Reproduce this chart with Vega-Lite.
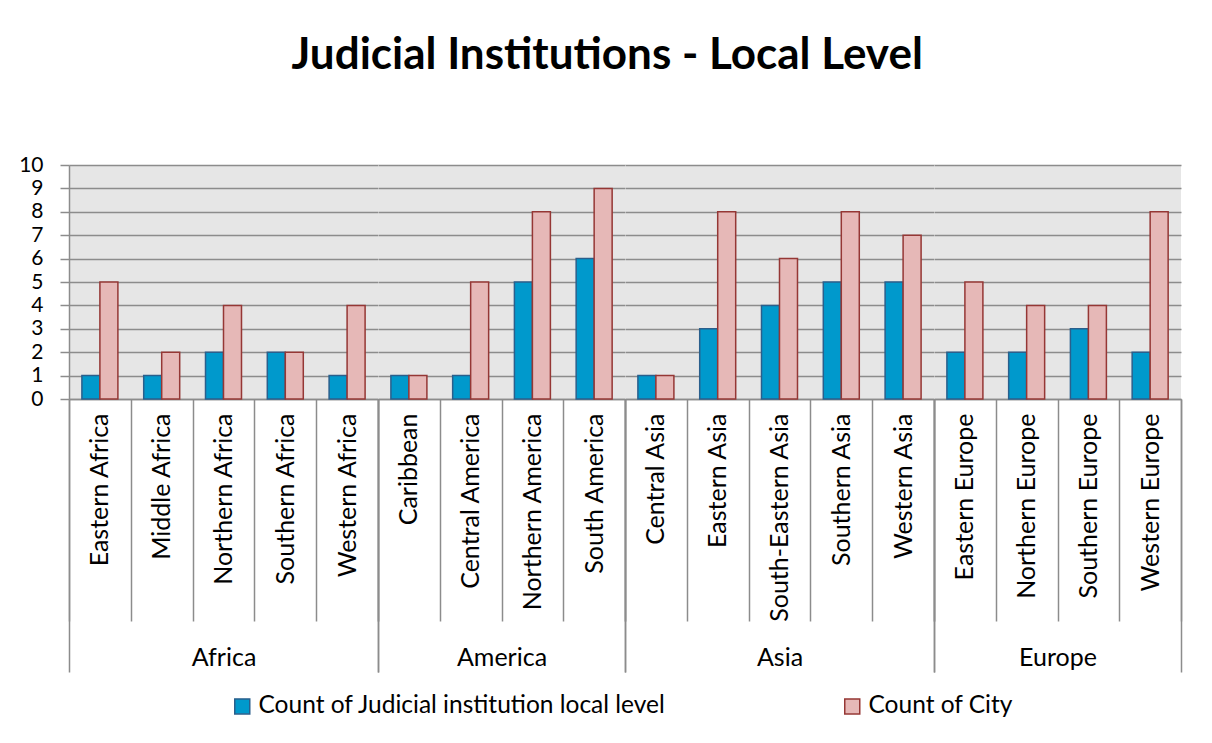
{
  "$schema": "https://vega.github.io/schema/vega-lite/v6.json",
  "background": "white",
  "padding": {"left": 18, "top": 34, "right": 5, "bottom": 5},
  "title": {"text": "Judicial Institutions - Local Level", "font": "Lato", "fontSize": 44, "fontWeight": "bold", "color": "black", "anchor": "middle", "offset": 76, "dx": 7},
  "data": {"values": [
    {"region": "Africa", "subregion": "Eastern Africa", "Count of Judicial institution local level": 1, "Count of City": 5},
    {"region": "Africa", "subregion": "Middle Africa", "Count of Judicial institution local level": 1, "Count of City": 2},
    {"region": "Africa", "subregion": "Northern Africa", "Count of Judicial institution local level": 2, "Count of City": 4},
    {"region": "Africa", "subregion": "Southern Africa", "Count of Judicial institution local level": 2, "Count of City": 2},
    {"region": "Africa", "subregion": "Western Africa", "Count of Judicial institution local level": 1, "Count of City": 4},
    {"region": "America", "subregion": "Caribbean", "Count of Judicial institution local level": 1, "Count of City": 1},
    {"region": "America", "subregion": "Central America", "Count of Judicial institution local level": 1, "Count of City": 5},
    {"region": "America", "subregion": "Northern America", "Count of Judicial institution local level": 5, "Count of City": 8},
    {"region": "America", "subregion": "South America", "Count of Judicial institution local level": 6, "Count of City": 9},
    {"region": "Asia", "subregion": "Central Asia", "Count of Judicial institution local level": 1, "Count of City": 1},
    {"region": "Asia", "subregion": "Eastern Asia", "Count of Judicial institution local level": 3, "Count of City": 8},
    {"region": "Asia", "subregion": "South-Eastern Asia", "Count of Judicial institution local level": 4, "Count of City": 6},
    {"region": "Asia", "subregion": "Southern Asia", "Count of Judicial institution local level": 5, "Count of City": 8},
    {"region": "Asia", "subregion": "Western Asia", "Count of Judicial institution local level": 5, "Count of City": 7},
    {"region": "Europe", "subregion": "Eastern Europe", "Count of Judicial institution local level": 2, "Count of City": 5},
    {"region": "Europe", "subregion": "Northern Europe", "Count of Judicial institution local level": 2, "Count of City": 4},
    {"region": "Europe", "subregion": "Southern Europe", "Count of Judicial institution local level": 3, "Count of City": 4},
    {"region": "Europe", "subregion": "Western Europe", "Count of Judicial institution local level": 2, "Count of City": 8}
  ]},
  "transform": [{"fold": ["Count of Judicial institution local level", "Count of City"], "as": ["series", "value"]}],
  "spacing": 0,
  "bounds": "flush",
  "hconcat": [
    {
      "width": 309, "height": 234,
      "transform": [{"filter": {"field": "region", "equal": "Africa"}}],
      "layer": [
        {"mark": {"type": "bar", "strokeWidth": 1.5},
         "encoding": {
           "x": {"field": "subregion", "type": "nominal", "title": null, "scale": {"paddingInner": 0, "paddingOuter": 0},
                 "axis": {"labelAngle": -90, "tickBand": "extent", "tickSize": 222, "labelPadding": -208}},
           "xOffset": {"field": "series", "type": "nominal", "sort": ["Count of Judicial institution local level", "Count of City"], "scale": {"paddingInner": 0, "paddingOuter": 0.717}},
           "y": {"field": "value", "type": "quantitative", "scale": {"domain": [0, 10]},
                 "axis": {"title": null, "values": [0,1,2,3,4,5,6,7,8,9,10], "tickSize": 9, "labelPadding": 17, "labelFontSize": 21, "grid": true, "domain": true}},
           "fill": {"field": "series", "type": "nominal", "sort": ["Count of Judicial institution local level", "Count of City"], "scale": {"range": ["#0099CC", "#E6B8B7"]},
                    "legend": {"title": null, "encode": {"symbols": {"update": {"fill": {"scale": "fill", "field": "value"}, "stroke": {"scale": "stroke", "field": "value"}, "strokeWidth": {"value": 1.5}}}}}},
           "stroke": {"field": "series", "type": "nominal", "sort": ["Count of Judicial institution local level", "Count of City"], "scale": {"range": ["#2A5F8C", "#953735"]}, "legend": null}
         }},
        {"mark": {"type": "tick", "opacity": 0},
         "encoding": {"x": {"field": "region", "type": "nominal", "title": null, "scale": {"paddingInner": 0, "paddingOuter": 0},
           "axis": {"orient": "bottom", "tickBand": "extent", "tickSize": 273, "labelPadding": -15, "labelBaseline": "middle", "labelAngle": 0, "domain": false}}}}
      ],
      "resolve": {"scale": {"x": "independent"}}
    },
    {
      "width": 247, "height": 234,
      "transform": [{"filter": {"field": "region", "equal": "America"}}],
      "layer": [
        {"mark": {"type": "bar", "strokeWidth": 1.5},
         "encoding": {
           "x": {"field": "subregion", "type": "nominal", "title": null, "scale": {"paddingInner": 0, "paddingOuter": 0},
                 "axis": {"labelAngle": -90, "tickBand": "extent", "tickSize": 222, "labelPadding": -208}},
           "xOffset": {"field": "series", "type": "nominal", "sort": ["Count of Judicial institution local level", "Count of City"], "scale": {"paddingInner": 0, "paddingOuter": 0.717}},
           "y": {"field": "value", "type": "quantitative", "scale": {"domain": [0, 10]},
                 "axis": {"title": null, "values": [0,1,2,3,4,5,6,7,8,9,10], "labels": false, "ticks": false, "domain": false, "grid": true}},
           "fill": {"field": "series", "type": "nominal", "sort": ["Count of Judicial institution local level", "Count of City"]},
           "stroke": {"field": "series", "type": "nominal", "sort": ["Count of Judicial institution local level", "Count of City"], "legend": null}
         }},
        {"mark": {"type": "tick", "opacity": 0},
         "encoding": {"x": {"field": "region", "type": "nominal", "title": null, "scale": {"paddingInner": 0, "paddingOuter": 0},
           "axis": {"orient": "bottom", "tickBand": "extent", "tickSize": 273, "labelPadding": -15, "labelBaseline": "middle", "labelAngle": 0, "domain": false}}}}
      ],
      "resolve": {"scale": {"x": "independent"}}
    },
    {
      "width": 309, "height": 234,
      "transform": [{"filter": {"field": "region", "equal": "Asia"}}],
      "layer": [
        {"mark": {"type": "bar", "strokeWidth": 1.5},
         "encoding": {
           "x": {"field": "subregion", "type": "nominal", "title": null, "scale": {"paddingInner": 0, "paddingOuter": 0},
                 "axis": {"labelAngle": -90, "tickBand": "extent", "tickSize": 222, "labelPadding": -208}},
           "xOffset": {"field": "series", "type": "nominal", "sort": ["Count of Judicial institution local level", "Count of City"], "scale": {"paddingInner": 0, "paddingOuter": 0.717}},
           "y": {"field": "value", "type": "quantitative", "scale": {"domain": [0, 10]},
                 "axis": {"title": null, "values": [0,1,2,3,4,5,6,7,8,9,10], "labels": false, "ticks": false, "domain": false, "grid": true}},
           "fill": {"field": "series", "type": "nominal", "sort": ["Count of Judicial institution local level", "Count of City"]},
           "stroke": {"field": "series", "type": "nominal", "sort": ["Count of Judicial institution local level", "Count of City"], "legend": null}
         }},
        {"mark": {"type": "tick", "opacity": 0},
         "encoding": {"x": {"field": "region", "type": "nominal", "title": null, "scale": {"paddingInner": 0, "paddingOuter": 0},
           "axis": {"orient": "bottom", "tickBand": "extent", "tickSize": 273, "labelPadding": -15, "labelBaseline": "middle", "labelAngle": 0, "domain": false}}}}
      ],
      "resolve": {"scale": {"x": "independent"}}
    },
    {
      "width": 247, "height": 234,
      "transform": [{"filter": {"field": "region", "equal": "Europe"}}],
      "layer": [
        {"mark": {"type": "bar", "strokeWidth": 1.5},
         "encoding": {
           "x": {"field": "subregion", "type": "nominal", "title": null, "scale": {"paddingInner": 0, "paddingOuter": 0},
                 "axis": {"labelAngle": -90, "tickBand": "extent", "tickSize": 222, "labelPadding": -208}},
           "xOffset": {"field": "series", "type": "nominal", "sort": ["Count of Judicial institution local level", "Count of City"], "scale": {"paddingInner": 0, "paddingOuter": 0.717}},
           "y": {"field": "value", "type": "quantitative", "scale": {"domain": [0, 10]},
                 "axis": {"title": null, "values": [0,1,2,3,4,5,6,7,8,9,10], "labels": false, "ticks": false, "domain": false, "grid": true}},
           "fill": {"field": "series", "type": "nominal", "sort": ["Count of Judicial institution local level", "Count of City"]},
           "stroke": {"field": "series", "type": "nominal", "sort": ["Count of Judicial institution local level", "Count of City"], "legend": null}
         }},
        {"mark": {"type": "tick", "opacity": 0},
         "encoding": {"x": {"field": "region", "type": "nominal", "title": null, "scale": {"paddingInner": 0, "paddingOuter": 0},
           "axis": {"orient": "bottom", "tickBand": "extent", "tickSize": 273, "labelPadding": -15, "labelBaseline": "middle", "labelAngle": 0, "domain": false}}}}
      ],
      "resolve": {"scale": {"x": "independent"}}
    }
  ],
  "config": {
    "font": "Lato",
    "view": {"fill": "#E6E6E6", "stroke": null},
    "axis": {"labelFont": "Lato", "labelFontSize": 25, "labelColor": "black", "labelLimit": 400, "labelOverlap": false,
             "domainColor": "#8C8C8C", "tickColor": "#8C8C8C", "gridColor": "#8C8C8C", "domainWidth": 1.5, "tickWidth": 1.5, "gridWidth": 1.5, "gridOpacity": 1},
    "legend": {"orient": "none", "legendX": 161, "legendY": 529, "direction": "horizontal", "columns": 2, "columnPadding": 174,
               "symbolType": "square", "symbolSize": 225, "symbolStrokeWidth": 1.5, "symbolOffset": 0,
               "labelFont": "Lato", "labelFontSize": 24.5, "labelColor": "black", "labelLimit": 600, "labelOffset": 4}
  }
}
